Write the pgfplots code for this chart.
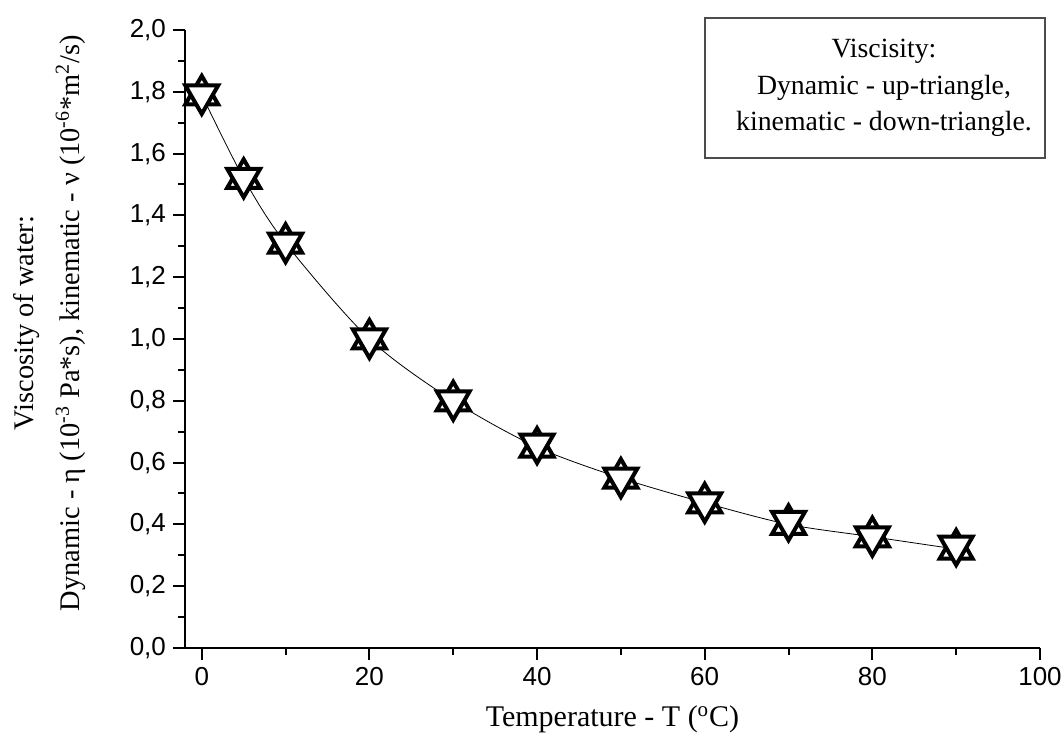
\documentclass[border=0pt]{standalone}
\usepackage{fontspec}
\setmainfont{Liberation Serif}
\setsansfont{Liberation Sans}
\usepackage{pgfplots}
\pgfplotsset{compat=1.18}

\begin{document}
\begin{tikzpicture}
\useasboundingbox (-92.5pt,-43pt) rectangle (438.5pt,324pt);
\begin{axis}[
  scale only axis, width=427.5pt, height=309pt,
  xmin=-2, xmax=100, ymin=0, ymax=2,
  axis x line=bottom, axis y line=left,
  axis line style={-, line width=1.1pt},
  every tick/.style={black, line width=1pt},
  tick align=outside,
  major tick length=6pt, minor tick length=3.5pt,
  xtick={0,20,...,100}, minor x tick num=1,
  ytick={0,0.2,...,2.0}, minor y tick num=1,
  tick label style={font=\sffamily\fontsize{13}{15}\selectfont},
  /pgf/number format/assume math mode=true,
  yticklabel style={/pgf/number format/.cd, use comma, fixed, fixed zerofill, precision=1},
  xlabel={Temperature - T (\textsuperscript{o}C)},
  ylabel={Viscosity of water:\\Dynamic - η (10\textsuperscript{-3} Pa*s), kinematic - ν (10\textsuperscript{-6}*m\textsuperscript{2}/s)},
  xlabel style={font=\fontsize{15}{24}\selectfont,
    at={(axis description cs:0.5,-0.1278)}, anchor=base},
  ylabel style={font=\fontsize{14.2}{23}\selectfont, align=center, inner sep=0pt,
    at={(axis description cs:-0.116,0.526)}, anchor=south},
]
% thin connecting curve
\addplot[black, thin, smooth, no marks] coordinates {
(0,1.79)(5,1.52)(10,1.31)(20,1.00)(30,0.80)(40,0.65)(50,0.55)(60,0.47)(70,0.40)(80,0.36)(90,0.32)};
% dynamic viscosity (up-triangles)
\addplot[only marks, mark=triangle*, mark size=9.5pt,
  mark options={line width=2pt, draw=black, fill=white}] coordinates {
(0,1.79)(5,1.52)(10,1.31)(20,1.00)(30,0.80)(40,0.65)(50,0.55)(60,0.47)(70,0.40)(80,0.36)(90,0.32)};
% kinematic viscosity (down-triangles)
\addplot[only marks, mark=triangle*, mark size=9.5pt,
  mark options={line width=2pt, draw=black, fill=white, rotate=180}] coordinates {
(0,1.79)(5,1.52)(10,1.31)(20,1.00)(30,0.80)(40,0.66)(50,0.55)(60,0.47)(70,0.41)(80,0.36)(90,0.33)};
\end{axis}
\draw[black!70, line width=0.6pt] (260pt,245pt) rectangle (430pt,315pt);
\node[align=center, font=\fontsize{13.9}{18.25}\selectfont] at (349.5pt,280pt)
  {Viscisity:\\Dynamic - up-triangle,\\kinematic - down-triangle.};
\end{tikzpicture}
\end{document}
